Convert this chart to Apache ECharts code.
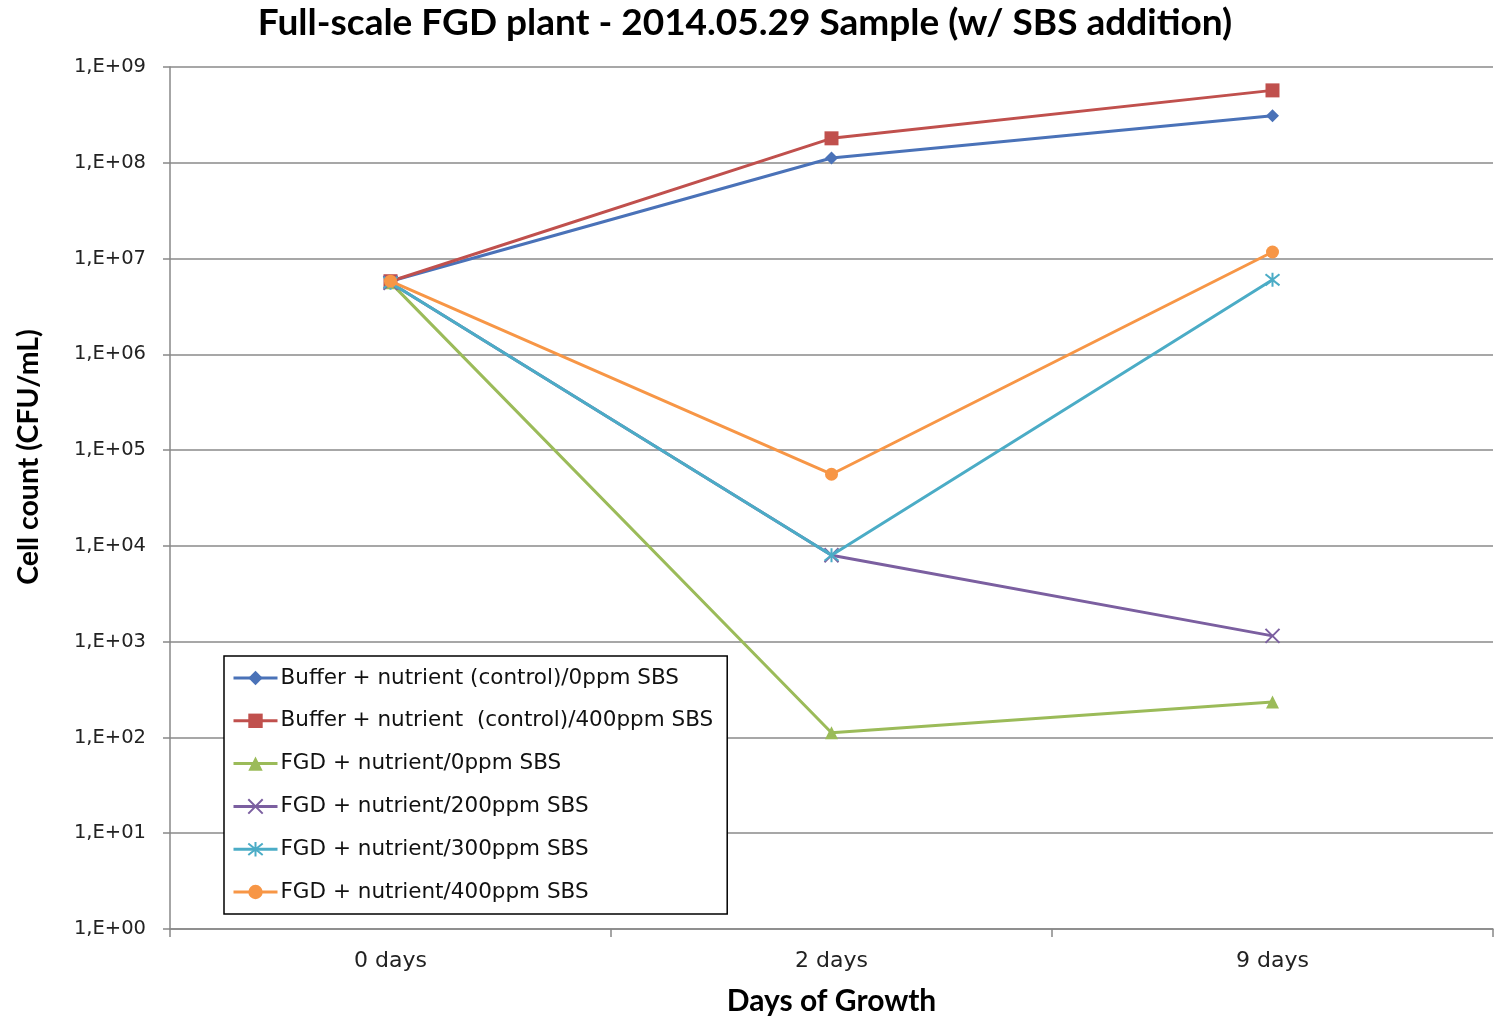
<!DOCTYPE html>
<html>
<head>
<meta charset="utf-8">
<script src="https://cdn.jsdelivr.net/npm/echarts@6/dist/echarts.min.js"></script>
<style>
html,body{margin:0;padding:0;background:#fff;overflow:hidden;}
#c{width:1497px;height:1016px;}
</style>
</head>
<body>
<div id="c"></div>
<script>
const categories = ['0 days', '2 days', '9 days'];
const seriesNames = [
  'Buffer + nutrient (control)/0ppm SBS',
  'Buffer + nutrient  (control)/400ppm SBS',
  'FGD + nutrient/0ppm SBS',
  'FGD + nutrient/200ppm SBS',
  'FGD + nutrient/300ppm SBS',
  'FGD + nutrient/400ppm SBS'
];
const buffer0 = [5.8e6, 1.12e8, 3.1e8];
const buffer400 = [5.8e6, 1.8e8, 5.7e8];
const fgd0 = [5.6e6, 112, 235];
const fgd200 = [5.6e6, 8.0e3, 1.15e3];
const fgd300 = [5.6e6, 8.0e3, 6.0e6];
const fgd400 = [5.8e6, 5.6e4, 1.17e7];
const yTickLabels = ['1,E+00','1,E+01','1,E+02','1,E+03','1,E+04','1,E+05','1,E+06','1,E+07','1,E+08','1,E+09'];
const yAxisTitle = 'Cell count (CFU/mL)';

const colors = ['#4A72B8', '#C0504D', '#9BBB59', '#7B5FA0', '#4BACC6', '#F79646'];
const symbols = [
  'diamond', 'rect', 'triangle',
  'path://M0,0L10,10M10,0L0,10',
  'path://M5,0L5,10M0,1L10,9M10,1L0,9',
  'circle'
];
const symbolSizes = [13, 14, 13, 14, 14, 13];
const dataSets = [buffer0, buffer400, fgd0, fgd200, fgd300, fgd400];

const chart = echarts.init(document.getElementById('c'), null, {renderer: 'canvas'});

const series = dataSets.map((d, i) => {
  const stroked = symbols[i].startsWith('path');
  return {
    name: seriesNames[i],
    type: 'line',
    data: d,
    symbol: symbols[i],
    symbolSize: symbolSizes[i],
    showAllSymbol: true,
    lineStyle: {color: colors[i], width: 3},
    itemStyle: stroked
      ? {color: colors[i], borderColor: colors[i], borderWidth: 2}
      : {color: colors[i], borderWidth: 0},
    emphasis: {disabled: true},
    animation: false,
    z: 2 + i
  };
});

chart.setOption({
  backgroundColor: '#ffffff',
  animation: false,
  title: {
    text: 'Full-scale FGD plant - 2014.05.29 Sample (w/ SBS addition)',
    left: 740,
    textAlign: 'center',
    top: 0,
    textStyle: {fontFamily: 'Lato', fontWeight: 'bold', fontSize: 37, color: '#000'}
  },
  graphic: [{
    type: 'text',
    x: 29,
    y: 457,
    rotation: Math.PI / 2,
    style: {
      text: yAxisTitle,
      fontFamily: 'Lato', fontWeight: 'bold', fontSize: 28.5, fill: '#000',
      align: 'center', verticalAlign: 'middle'
    }
  }],
  grid: {left: 170, right: 4, top: 67, bottom: 87, containLabel: false, outerBoundsMode: 'none'},
  legend: {
    orient: 'vertical',
    left: 224,
    top: 656,
    data: seriesNames,
    itemWidth: 44,
    itemHeight: 18,
    itemGap: 20.8,
    padding: [11, 14, 11, 8],
    borderColor: '#000',
    borderWidth: 1.5,
    backgroundColor: '#fff',
    lineStyle: {width: 3},
    textStyle: {fontFamily: 'DejaVu Sans', fontSize: 21.5, lineHeight: 20, color: '#111', padding: [0, 0, 0, -2]}
  },
  xAxis: {
    type: 'category',
    data: categories,
    boundaryGap: true,
    name: 'Days of Growth',
    nameLocation: 'middle',
    nameGap: 57,
    nameTextStyle: {fontFamily: 'Lato', fontWeight: 'bold', fontSize: 30, color: '#000'},
    axisLine: {lineStyle: {color: '#888', width: 1.5}},
    axisTick: {show: true, length: 8, lineStyle: {color: '#888', width: 1.5}},
    axisLabel: {fontFamily: 'DejaVu Sans', fontSize: 22, color: '#222', margin: 21}
  },
  yAxis: {
    type: 'log',
    logBase: 10,
    min: 1,
    max: 1e9,
    interval: 1,
    axisLine: {show: true, lineStyle: {color: '#888', width: 1.5}},
    axisTick: {show: true, length: 7, lineStyle: {color: '#888', width: 1.5}},
    axisLabel: {
      fontFamily: 'DejaVu Sans', fontSize: 19.5, color: '#222', margin: 24,
      formatter: function (v) {
        const e = Math.round(Math.log10(v));
        return yTickLabels[e] !== undefined ? yTickLabels[e] : '';
      }
    },
    splitLine: {show: true, lineStyle: {color: '#8a8a8a', width: 1.5}}
  },
  series: series
});
</script>
</body>
</html>
